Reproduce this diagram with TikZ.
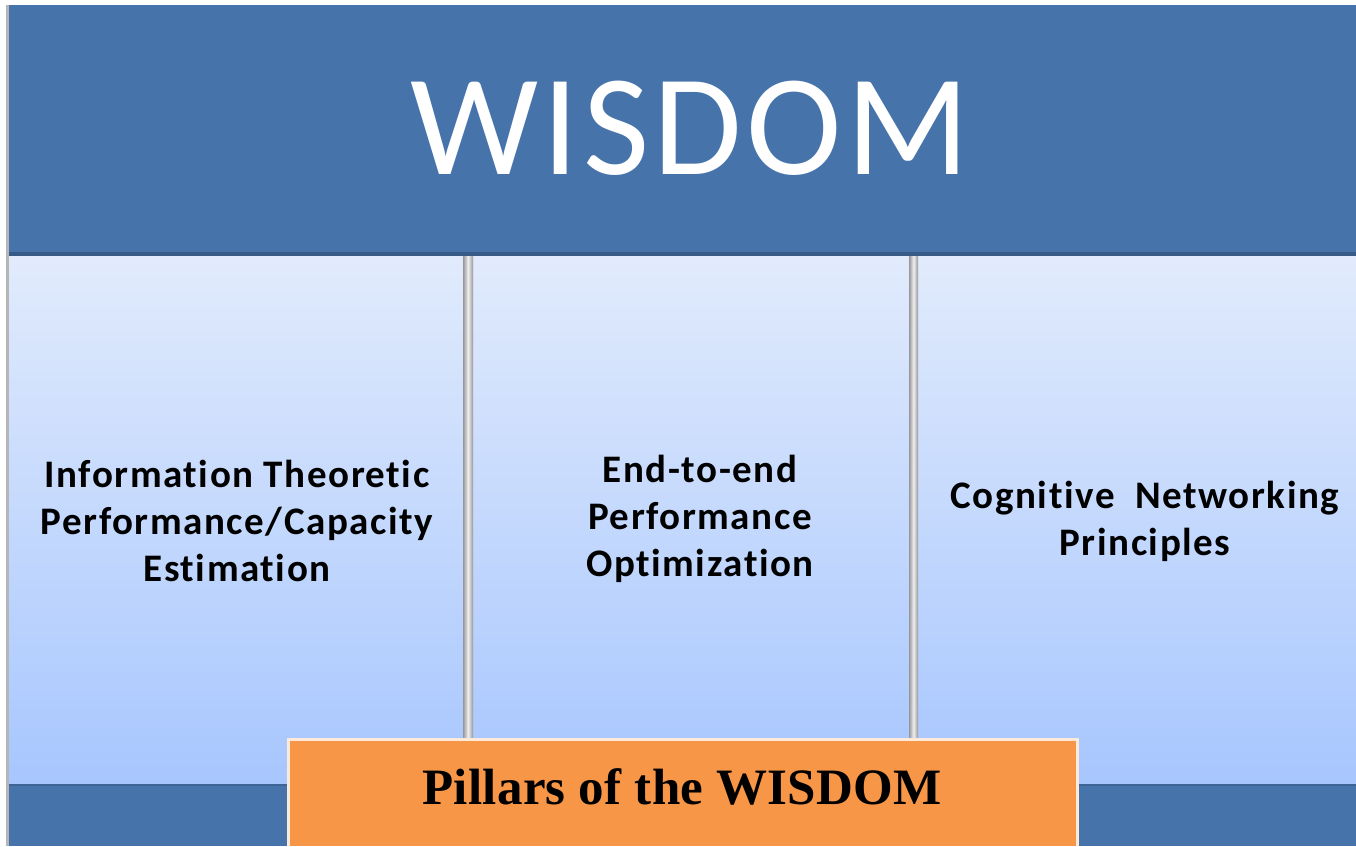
\documentclass[tikz,border=0pt]{standalone}
\usepackage{fontspec}
\setmainfont{Carlito}
\newfontfamily\pillarserif{Liberation Serif}
\definecolor{wblue}{RGB}{70,116,170}
\definecolor{wblueshadow}{RGB}{55,90,135}
\definecolor{ptop}{RGB}{225,235,252}
\definecolor{pbot}{RGB}{167,198,254}
\definecolor{worange}{RGB}{247,150,70}
\definecolor{divgray}{RGB}{150,150,155}
\tikzset{
  pillartext/.style={align=center, text=black, font=\bfseries\fontsize{39}{47}\selectfont\addfontfeatures{LetterSpace=4,Ligatures=NoCommon}},
  divider/.style={left color=divgray, right color=divgray, middle color=white!85!divgray}
}
\begin{document}
\begin{tikzpicture}[x=1pt,y=-1pt]
\useasboundingbox (0,0) rectangle (1356,846);
\fill[white] (0,0) rectangle (1356,846);
% left border shadow
\fill[divgray!70] (6,5) rectangle (10,846);
% pillar area gradient
\shade[top color=ptop, bottom color=pbot] (9,255) rectangle (1356,786);
% top banner
\fill[wblueshadow] (9,5) rectangle (1356,256);
\fill[wblue] (9,5) rectangle (1356,252);
% bottom band
\fill[wblueshadow!60!wblue] (9,784) rectangle (1356,786);
\fill[wblue] (9,786) rectangle (1356,846);
% dividers
\shade[divider] (463,256) rectangle (473,740);
\shade[divider] (909,256) rectangle (918,740);
% title
\node[text=white, font=\fontsize{144}{150}\selectfont\addfontfeatures{LetterSpace=3}, inner sep=0pt] (title) at (690,128) {WISDOM};
% pillars
\node[pillartext] (p1) at (237,521) {Information Theoretic\\Performance/Capacity\\Estimation};
\node[pillartext] (p2) at (700,519) {End-to-end\\Performance\\Optimization};
\node[pillartext] (p3) at (1145,521) {Cognitive~ Networking\\Principles};
% orange box
\fill[white!80!worange] (287,738) rectangle (1079,846);
\fill[worange] (290,741) rectangle (1076,846);
\node[font=\pillarserif\bfseries\fontsize{51}{56}\selectfont\addfontfeatures{LetterSpace=0.6}, text=black] (pillars) at (682,787) {Pillars of the WISDOM};
\end{tikzpicture}
\end{document}
